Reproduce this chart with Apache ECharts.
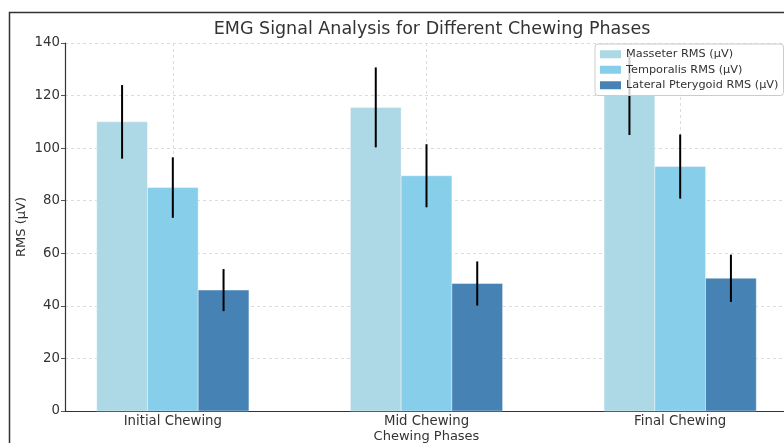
<!DOCTYPE html>
<html><head><meta charset="utf-8">
<script src="https://cdn.jsdelivr.net/npm/echarts@6/dist/echarts.min.js"></script>
<style>html,body{margin:0;padding:0;background:#fff}#c{width:784px;height:443px}</style>
</head><body><div id="c"></div>
<script>
const categories = ['Initial Chewing', 'Mid Chewing', 'Final Chewing'];
const seriesNames = ['Masseter RMS (μV)', 'Temporalis RMS (μV)', 'Lateral Pterygoid RMS (μV)'];
const masseter = [110, 115.5, 120];
const masseterErr = [14, 15.2, 15];
const temporalis = [85, 89.5, 93];
const temporalisErr = [11.5, 12, 12.2];
const pterygoid = [46, 48.5, 50.5];
const pterygoidErr = [8, 8.4, 9];
const yTicks = [0, 20, 40, 60, 80, 100, 120, 140];

const colors = ['#ADD8E6', '#87CEEB', '#4682B4'];
const barW = 0.2;
const offsets = [-0.2, 0, 0.2];
const values = [masseter, temporalis, pterygoid];
const errs = [masseterErr, temporalisErr, pterygoidErr];
const FONT = 'DejaVu Sans';

function makeSeries(k) {
  return {
    type: 'custom',
    name: seriesNames[k],
    itemStyle: { color: colors[k] },
    data: categories.map((c, i) => [i + offsets[k], values[k][i], errs[k][i]]),
    encode: { x: 0, y: 1 },
    clip: false,
    renderItem: function (params, api) {
      const x = api.value(0), v = api.value(1), e = api.value(2);
      const p0 = api.coord([x - barW / 2, v]);
      const p1 = api.coord([x + barW / 2, 0]);
      const t = api.coord([x, v + e]);
      const b = api.coord([x, v - e]);
      return {
        type: 'group',
        children: [
          { type: 'rect', shape: { x: p0[0], y: p0[1], width: p1[0] - p0[0], height: p1[1] - p0[1] },
            style: { fill: colors[k], stroke: 'rgba(255,255,255,0.5)', lineWidth: 0.8 } },
          { type: 'line', z2: 10, shape: { x1: t[0], y1: t[1], x2: b[0], y2: b[1] },
            style: { stroke: '#000', lineWidth: 2 } }
        ]
      };
    }
  };
}

const chart = echarts.init(document.getElementById('c'), null, { renderer: 'canvas' });
chart.setOption({
  animation: false,
  backgroundColor: '#fff',
  title: {
    text: 'EMG Signal Analysis for Different Chewing Phases',
    left: 427, top: 15, textAlign: 'center',
    textStyle: { fontFamily: FONT, fontSize: 17.5, fontWeight: 'normal', color: '#333' }
  },
  legend: {
    orient: 'vertical', left: 595, top: 44,
    data: seriesNames.map((n, k) => ({ name: n, icon: 'rect', itemStyle: { color: colors[k] } })),
    itemWidth: 21, itemHeight: 8, itemGap: 3,
    padding: [4, 5, 4, 5],
    backgroundColor: 'rgba(255,255,255,0.8)', borderColor: '#ccc', borderWidth: 1, borderRadius: 3,
    textStyle: { fontFamily: FONT, fontSize: 11.3, color: '#333', lineHeight: 12.5 }
  },
  grid: { left: 65, top: 43, width: 723, height: 368, containLabel: false, outerBoundsMode: 'none' },
  xAxis: {
    type: 'value', min: -0.425, max: 2.425,
    name: 'Chewing Phases', nameLocation: 'middle', nameGap: 19, nameMoveOverlap: false,
    nameTextStyle: { fontFamily: FONT, fontSize: 13, color: '#333', verticalAlign: 'top' },
    axisLine: { show: true, onZero: false, lineStyle: { color: '#333', width: 1.2 } },
    axisTick: { show: true, customValues: [0, 1, 2], length: 4, inside: true, lineStyle: { color: '#555' } },
    axisLabel: { customValues: [0, 1, 2], formatter: v => categories[Math.round(v)], fontFamily: FONT, fontSize: 13.3, color: '#333', margin: 4 },
    splitLine: { show: true, lineStyle: { color: '#d4d4d4', type: [3, 3], width: 0.8 } }
  },
  yAxis: {
    type: 'value', min: 0, max: 140, interval: 20,
    name: 'RMS (μV)', nameLocation: 'middle', nameGap: 43, nameRotate: 90, nameMoveOverlap: false,
    nameTextStyle: { fontFamily: FONT, fontSize: 13, color: '#333', verticalAlign: 'middle' },
    axisLine: { show: true, onZero: false, lineStyle: { color: '#333', width: 1.2 } },
    axisTick: { show: true, length: 4, lineStyle: { color: '#555' } },
    axisLabel: { formatter: v => yTicks.includes(v) ? String(v) : '', fontFamily: FONT, fontSize: 13.3, color: '#333', margin: 5 },
    splitLine: { show: true, lineStyle: { color: '#d4d4d4', type: [3, 3], width: 0.8 } }
  },
  series: [makeSeries(0), makeSeries(1), makeSeries(2)],
  graphic: [
    { type: 'polyline', silent: true, shape: { points: [[9.5, 443], [9.5, 12.5], [784, 12.5]] },
      style: { stroke: '#333', lineWidth: 1.5, fill: null } }
  ]
});
</script></body></html>
